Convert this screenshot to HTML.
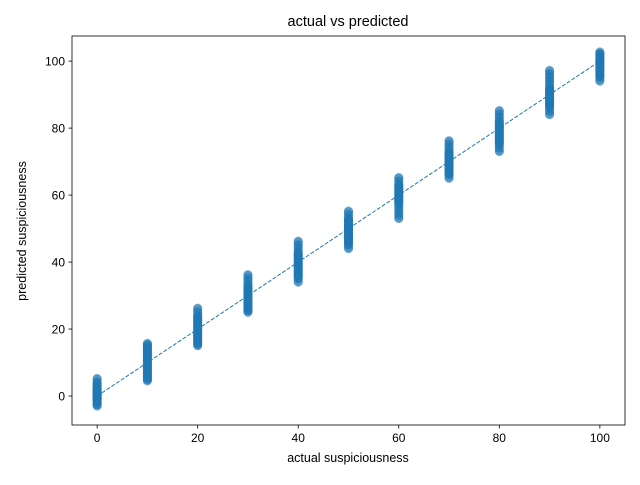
<!DOCTYPE html>
<html><head><meta charset="utf-8"><style>
body{margin:0;background:#fff}
svg{font-family:"Liberation Sans","DejaVu Sans",sans-serif}
</style></head><body>
<svg id="chart" width="640" height="480">
<rect width="640" height="480" fill="#fff"/>
<text x="348" y="26" text-anchor="middle" font-size="14.5">actual vs predicted</text>
<g id="marks"></g>
<g id="axes"></g>
<text x="348" y="462" text-anchor="middle" font-size="12.5">actual suspiciousness</text>
<text transform="translate(26,231) rotate(-90)" text-anchor="middle" font-size="12.5">predicted suspiciousness</text>
</svg>
<script>
const categories=[0,10,20,30,40,50,60,70,80,90,100];
const predicted=[
[-3,-2.5,-2,-1.5,-1.2,-1,-0.8,-0.5,-0.3,0,0.2,0.4,0.6,0.8,1,1.3,1.6,2,2.5,3,3.5,4,5],
[4.5,5,5.5,6,6.5,7,7.5,8,8.5,9,9.5,10,10.5,11,11.5,12,12.5,13,13.5,14,14.5,15,15.5],
[15,15.5,16,16.5,17,17.5,18,18.5,19,19.5,20,20.5,21,21.5,22,22.5,23,23.5,24,25,26],
[25,25.5,26,26.5,27,27.5,28,28.5,29,29.5,30,30.5,31,31.5,32,32.5,33,34,35,36],
[34,35,35.5,36,36.5,37,37.5,38,38.5,39,39.5,40,40.5,41,41.5,42,42.5,43,44,45,46],
[44,45,45.5,46,46.5,47,47.5,48,48.5,49,49.5,50,50.5,51,51.5,52,52.5,53,54,55],
[53,54,55,56,57,57.5,58,58.5,59,59.5,60,60.5,61,61.5,62,62.5,63,64,65],
[65,66,66.5,67,67.5,68,68.5,69,69.5,70,70.5,71,71.5,72,72.5,73,74,75,76],
[73,74,75,75.5,76,76.5,77,77.5,78,78.5,79,79.5,80,80.5,81,81.5,82,83,84,85],
[84,85,86,86.5,87,87.5,88,88.5,89,89.5,90,90.5,91,91.5,92,93,94,95,96,97],
[94,95,95.5,96,96.5,97,97.5,98,98.5,99,99.5,100,100.5,101,101.5,102,102.5]
];
const xTicks=[0,20,40,60,80,100];
const yTicks=[0,20,40,60,80,100];
const L=72,R=625,T=36,B=425,xmin=-5,xmax=105,ymin=-8.65,ymax=107.5;
const sx=v=>L+(v-xmin)/(xmax-xmin)*(R-L);
const sy=v=>B-(v-ymin)/(ymax-ymin)*(B-T);
const NS="http://www.w3.org/2000/svg";
const marks=document.getElementById('marks'),axes=document.getElementById('axes');
function mk(tag,attrs,parent){const e=document.createElementNS(NS,tag);for(const k in attrs)e.setAttribute(k,attrs[k]);parent.appendChild(e);return e;}
categories.forEach((c,i)=>{predicted[i].forEach(v=>{
 [0,0.25].forEach(d=>{
 const p=mk('circle',{cx:sx(c),cy:sy(v+d),r:4.3,fill:'#1f77b4','fill-opacity':0.5,stroke:'#1f77b4','stroke-opacity':0.5,'stroke-width':0.5},marks);
 
 
 });
});});
const ln=mk('line',{x1:sx(0),y1:sy(0),x2:sx(100),y2:sy(100),stroke:'#1f77b4','stroke-width':1,'stroke-dasharray':'4,1.7'},marks);


const fr=mk('rect',{x:L,y:T,width:R-L,height:B-T,fill:'none',stroke:'#000','stroke-width':0.8},axes);


xTicks.forEach(t=>{
 mk('line',{x1:sx(t),x2:sx(t),y1:B,y2:B+3.5,stroke:'#000','stroke-width':0.8},axes);
 const tx=mk('text',{x:sx(t),y:B+17,'text-anchor':'middle','font-size':12},axes);tx.textContent=t;
 
 
});
yTicks.forEach(t=>{
 mk('line',{x1:L-3.5,x2:L,y1:sy(t),y2:sy(t),stroke:'#000','stroke-width':0.8},axes);
 const tx=mk('text',{x:L-7,y:sy(t)+4.5,'text-anchor':'end','font-size':12},axes);tx.textContent=t;
 
 
});
</script>
</body></html>
